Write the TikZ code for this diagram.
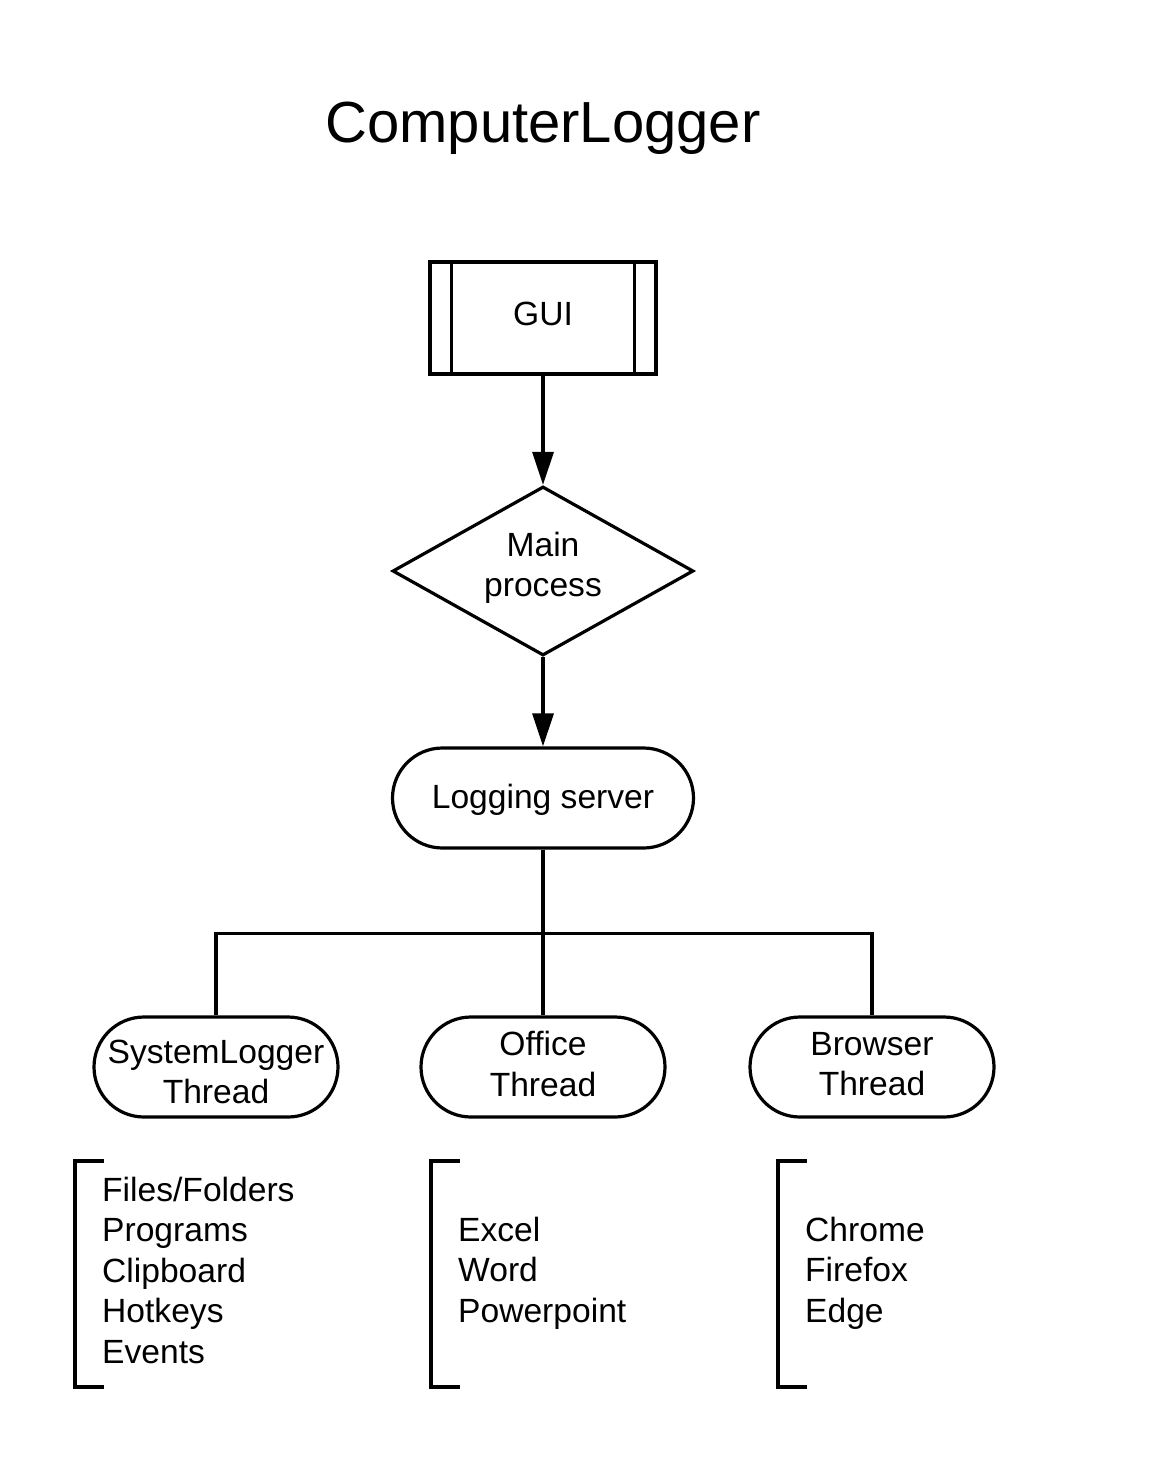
\documentclass[tikz,border=0pt]{standalone}
\usepackage{fontspec}
\setmainfont{Liberation Sans}
\usetikzlibrary{arrows.meta,shapes.geometric}
\begin{document}
\begin{tikzpicture}[x=1pt,y=-1pt,
  every node/.style={font=\fontsize{33.6}{40.5}\selectfont},
  ln/.style={line width=3.2pt},
  box/.style={ln,draw,inner sep=0pt,align=center},
  stadium/.style={box,rectangle,rounded corners=50pt,minimum width=244pt,minimum height=100pt},
  txt/.style={inner sep=0pt,align=center},
  arr/.style={ln,-{Triangle[width=21pt,length=33pt]}},
  list/.style={anchor=west,inner sep=0pt,align=left}
]
\useasboundingbox (0,0) rectangle (1153,1463);
\node[font=\fontsize{58}{64}\selectfont] (title) at (543,128) {ComputerLogger};

\node[box,rectangle,minimum width=226pt,minimum height=112pt] (gui) at (543,318) {};
\node[txt] (guit) at (543,314) {GUI};
\draw[ln] ([xshift=23pt]gui.north west) -- ([xshift=23pt]gui.south west);
\draw[ln] ([xshift=-23pt]gui.north east) -- ([xshift=-23pt]gui.south east);

\node[box,diamond,aspect=1.78,minimum width=301pt,minimum height=169pt] (main) at (543,571) {};
\node[txt] (maint) at (543,568) {Main\\process};

\node[stadium,minimum width=301pt] (log) at (543,798) {};
\node[txt] (logt) at (543,800) {Logging server};

\node[stadium] (sys) at (216,1067) {};
\node[txt] (syst) at (216,1072) {SystemLogger\\Thread};
\node[stadium] (off) at (543,1067) {};
\node[txt] (offt) at (543,1064) {Office\\Thread};
\node[stadium] (brw) at (872,1067) {};
\node[txt] (brwt) at (872,1064) {Browser\\Thread};

\draw[arr] (gui.south) -- (main.north);
\draw[arr] (main.south) -- (log.north);
\draw[ln] (log.south) -- ++(0,84) -| (sys.north);
\draw[ln] (log.south) -- ++(0,84) -| (brw.north);
\draw[ln] (log.south) -- (off.north);

\draw[ln] (104,1161) -- (75,1161) -- (75,1387) -- (104,1387);
\draw[ln] (460,1161) -- (431,1161) -- (431,1387) -- (460,1387);
\draw[ln] (807,1161) -- (778,1161) -- (778,1387) -- (807,1387);

\node[list] (l1) at (102,1270) {Files/Folders\\Programs\\Clipboard\\Hotkeys\\Events};
\node[list] (l2) at (458,1273) {Excel\\Word\\Powerpoint};
\node[list] (l3) at (805,1273) {Chrome\\Firefox\\Edge};
\end{tikzpicture}
\end{document}
